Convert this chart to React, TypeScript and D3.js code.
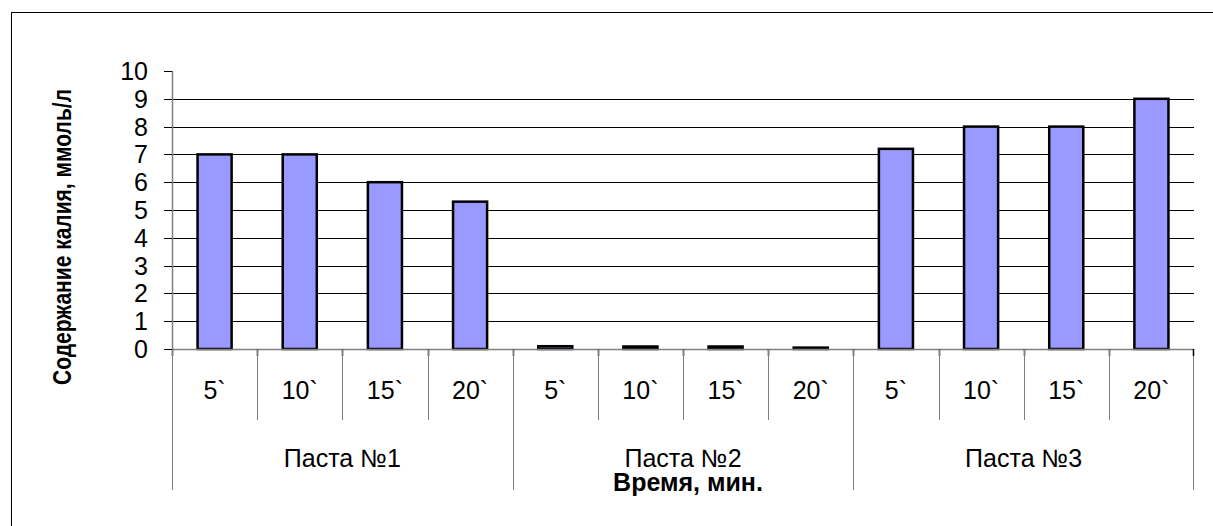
import React from "react";
import * as d3 from "d3";

const groups = ["Паста №1", "Паста №2", "Паста №3"];
const times = ["5`", "10`", "15`", "20`"];
const pasta1 = [7, 7, 6, 5.3];
const pasta2 = [0.1, 0.09, 0.09, 0.05];
const pasta3 = [7.2, 8, 8, 9];
const yTicks = [0, 1, 2, 3, 4, 5, 6, 7, 8, 9, 10];
const yTitle = "Содержание калия, ммоль/л";
const xTitle = "Время, мин.";

const W = 1213;
const H = 526;
const FONT = "'Liberation Sans', Arial, sans-serif";

export default function App() {
  const left = 172;
  const right = 1194;
  const top = 71;
  const bottom = 349;

  const series = [pasta1, pasta2, pasta3];
  const cats: { key: string; g: number; t: string; v: number }[] = [];
  series.forEach((vals, g) =>
    vals.forEach((v, i) => cats.push({ key: `${g}-${i}`, g, t: times[i], v }))
  );

  const x = d3
    .scaleBand<string>()
    .domain(cats.map((c) => c.key))
    .range([left, right])
    .paddingInner(0)
    .paddingOuter(0);
  const bw = x.bandwidth();
  const barW = bw * 0.4;
  const y = d3.scaleLinear().domain([0, 10]).range([bottom, top]);

  const groupW = bw * times.length;

  return (
    <svg
      width={W}
      height={H}
      style={{ position: "absolute", left: 0, top: 0, background: "#fff" }}
      fontFamily={FONT}
    >
      <rect x={0} y={0} width={W} height={H} fill="#fff" />
      {/* outer chart border */}
      <rect x={11.5} y={12.5} width={1400} height={700} fill="none" stroke="#000" strokeWidth={1} />

      {/* gridlines 1..9 */}
      {yTicks
        .filter((t) => t > 0 && t < 10)
        .map((t) => (
          <line
            key={`g${t}`}
            x1={left}
            x2={right}
            y1={Math.round(y(t)) + 0.5}
            y2={Math.round(y(t)) + 0.5}
            stroke="#000"
            strokeWidth={1}
          />
        ))}

      {/* y axis */}
      <line x1={left + 0.5} x2={left + 0.5} y1={y(10)} y2={bottom} stroke="#808080" strokeWidth={1.5} />
      {yTicks.map((t) => (
        <g key={`yt${t}`}>
          <line
            x1={left - 8}
            x2={left}
            y1={Math.round(y(t)) + 0.5}
            y2={Math.round(y(t)) + 0.5}
            stroke="#000"
            strokeWidth={1}
          />
          <text
            x={148}
            y={y(t)}
            textAnchor="end"
            dominantBaseline="central"
            fontSize={25}
            fill="#000"
          >
            {t}
          </text>
        </g>
      ))}

      {/* bars */}
      {cats.map((c) => {
        const cx = (x(c.key) as number) + bw / 2;
        const yt = y(c.v);
        return (
          <rect
            key={`b${c.key}`}
            x={cx - barW / 2}
            y={yt}
            width={barW}
            height={Math.max(0.5, bottom - yt)}
            fill="#9999FF"
            stroke="#000"
            strokeWidth={2.5}
          />
        );
      })}

      {/* x axis */}
      <line x1={left} x2={right} y1={bottom + 0.5} y2={bottom + 0.5} stroke="#808080" strokeWidth={1.5} />
      {cats.map((c, i) => {
        const xx = Math.round(x(c.key) as number) + 0.5;
        const isGroup = i % times.length === 0;
        return (
          <g key={`xt${c.key}`}>
            <line x1={xx} x2={xx} y1={bottom} y2={bottom + 7} stroke="#000" strokeWidth={1.5} />
            <line
              x1={xx}
              x2={xx}
              y1={bottom}
              y2={isGroup ? 490 : 420}
              stroke="#808080"
              strokeWidth={1}
            />
          </g>
        );
      })}
      <line x1={right - 0.5} x2={right - 0.5} y1={bottom} y2={490} stroke="#808080" strokeWidth={1} />
      <line x1={right - 0.5} x2={right - 0.5} y1={bottom} y2={bottom + 7} stroke="#000" strokeWidth={1.5} />

      {/* category labels */}
      {cats.map((c) => (
        <text
          key={`cl${c.key}`}
          x={(x(c.key) as number) + bw / 2}
          y={390}
          textAnchor="middle"
          dominantBaseline="central"
          fontSize={25}
          fill="#000"
        >
          {c.t}
        </text>
      ))}

      {/* group labels */}
      {groups.map((g, gi) => (
        <text
          key={`gl${gi}`}
          x={left + groupW * gi + groupW / 2}
          y={458}
          textAnchor="middle"
          dominantBaseline="central"
          fontSize={25}
          fill="#000"
        >
          {g}
        </text>
      ))}

      {/* axis titles */}
      <text
        x={688}
        y={482}
        textAnchor="middle"
        dominantBaseline="central"
        fontSize={25}
        fontWeight="bold"
        fill="#000"
      >
        {xTitle}
      </text>
      <text
        transform={`translate(62,237) rotate(-90) scale(1,1.2)`}
        textAnchor="middle"
        dominantBaseline="central"
        fontSize={21}
        fontWeight="bold"
        fill="#000"
      >
        {yTitle}
      </text>
    </svg>
  );
}
